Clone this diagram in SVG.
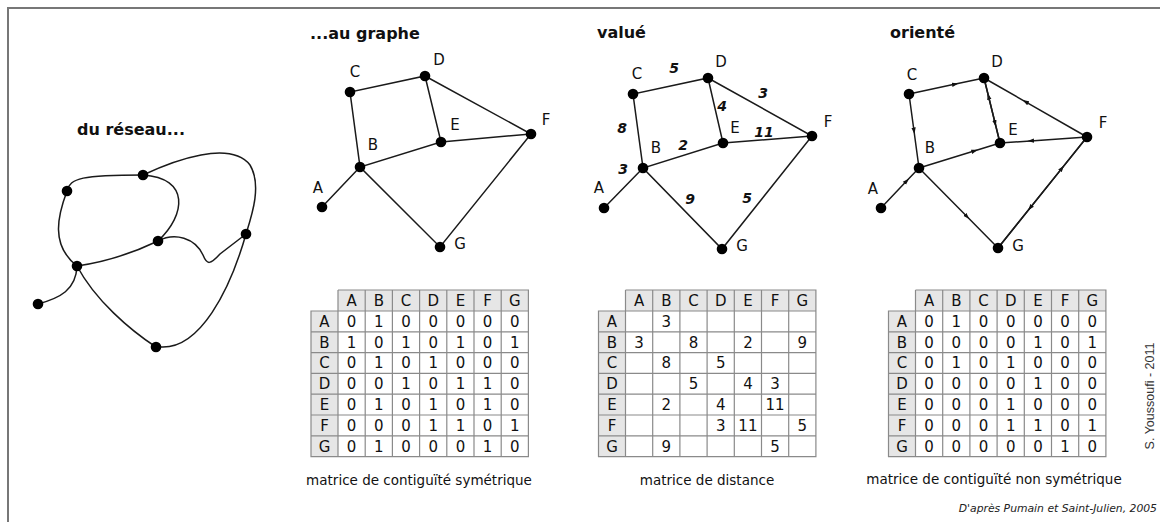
<svg xmlns="http://www.w3.org/2000/svg" width="1160" height="522" viewBox="0 0 1160 522">
<style>
.edge{stroke:#1a1a1a;stroke-width:1.5;fill:none}
.nd{fill:#000}
.lbl{font-family:"DejaVu Sans",sans-serif;font-size:15px;fill:#111;text-anchor:middle}
.w{font-family:"DejaVu Sans",sans-serif;font-size:14px;font-weight:bold;font-style:italic;fill:#111;text-anchor:middle}
.ttl{font-family:"DejaVu Sans",sans-serif;font-size:16px;font-weight:bold;fill:#111}
.cap{font-family:"DejaVu Sans",sans-serif;font-size:13.5px;fill:#111;text-anchor:middle}
.hd{fill:#e6e6e6}
.grid{stroke:#8a8a8a;stroke-width:1.2;fill:none}
.ct{font-family:"DejaVu Sans",sans-serif;font-size:15px;fill:#111;text-anchor:middle}
</style>
<defs>
<marker id="arr" markerUnits="userSpaceOnUse" markerWidth="7" markerHeight="6" refX="3.5" refY="3" orient="auto">
<path d="M0,0.8 L6.5,3 L0,5.2 z" fill="#111"/>
</marker>
</defs>
<rect width="1160" height="522" fill="#fff"/>
<path d="M8,522 L8,8 L1160,8" fill="none" stroke="#777" stroke-width="2"/>

<!-- Network -->
<g id="reseau">
<text class="ttl" x="77" y="135">du réseau...</text>
<g class="edge">
<path d="M38,304 C60,298 76,290 77,266"/>
<path d="M67,191 C58,215 50,245 77,266"/>
<path d="M67,191 C70,178 82,175 143,175"/>
<path d="M143,175 C190,178 186,215 158,241"/>
<path d="M143,175 C175,160 230,140 250,165 C262,185 252,215 246,234"/>
<path d="M77,266 C105,262 135,252 158,241"/>
<path d="M158,241 C175,232 195,238 203,255 C207,265 210,265 220,254 L246,234"/>
<path d="M246,234 C230,290 200,350 160,347"/>
<path d="M77,266 C95,300 130,330 156,347"/>
</g>
<g class="nd">
<circle cx="67" cy="191" r="5.3"/><circle cx="143" cy="175" r="5.3"/><circle cx="158" cy="241" r="5.3"/>
<circle cx="246" cy="234" r="5.3"/><circle cx="77" cy="266" r="5.3"/><circle cx="38" cy="304" r="5.3"/>
<circle cx="156" cy="347" r="5.3"/>
</g>
</g>

<!-- Graph 1 -->
<g id="graphe">
<text class="ttl" x="310" y="39">...au graphe</text>
<g class="edge">
<path d="M322,207 L360,167 L350,92 L425,76 L441,142 L360,167 L440,247 L531,134 L425,76"/>
<path d="M441,142 L531,134"/>
</g>
<g class="nd">
<circle cx="322" cy="207" r="5.3"/><circle cx="360" cy="167" r="5.3"/><circle cx="350" cy="92" r="5.3"/>
<circle cx="425" cy="76" r="5.3"/><circle cx="441" cy="142" r="5.3"/><circle cx="531" cy="134" r="5.3"/>
<circle cx="440" cy="247" r="5.3"/>
</g>
<g class="lbl">
<text x="318" y="193">A</text><text x="373" y="150">B</text><text x="355" y="77">C</text>
<text x="439" y="65">D</text><text x="455" y="130">E</text><text x="546" y="125">F</text><text x="460" y="249">G</text>
</g>
</g>

<!-- Graph 2 -->
<g id="value">
<text class="ttl" x="597" y="38">valué</text>
<g class="edge">
<path d="M604,208 L643,168 L633,94 L708,78 L723,143 L643,168 L722,249 L812,136 L708,78"/>
<path d="M723,143 L812,136"/>
</g>
<g class="nd">
<circle cx="604" cy="208" r="5.3"/><circle cx="643" cy="168" r="5.3"/><circle cx="633" cy="94" r="5.3"/>
<circle cx="708" cy="78" r="5.3"/><circle cx="723" cy="143" r="5.3"/><circle cx="812" cy="136" r="5.3"/>
<circle cx="722" cy="249" r="5.3"/>
</g>
<g class="lbl">
<text x="599" y="193">A</text><text x="656" y="153">B</text><text x="637" y="79">C</text>
<text x="721" y="67">D</text><text x="735" y="133">E</text><text x="828" y="127">F</text><text x="742" y="251">G</text>
</g>
<g class="w">
<text x="674" y="73">5</text><text x="763" y="98">3</text><text x="722" y="111">4</text>
<text x="764" y="137">11</text><text x="622" y="133">8</text><text x="683" y="150">2</text>
<text x="623" y="174">3</text><text x="690" y="204">9</text><text x="747" y="203">5</text>
</g>
</g>

<!-- Graph 3 -->
<g id="oriente">
<text class="ttl" x="890" y="38">orienté</text>
<g class="edge">
<path d="M881,208 L906.8,180.8 L919,168" marker-mid="url(#arr)"/>
<path d="M909,94 L914,131 L919,168" marker-mid="url(#arr)"/>
<path d="M909,94 L955.5,84.1 L984,78" marker-mid="url(#arr)"/>
<path d="M919,168 L974.9,150.75 L1000,143" marker-mid="url(#arr)"/>
<path d="M1000,143 L988.5,96.2 L984,78" marker-mid="url(#arr)"/>
<path d="M984,78 L995.2,123.5 L1000,143" marker-mid="url(#arr)"/>
<path d="M1087,137 L1025.2,101.6 L984,78" marker-mid="url(#arr)"/>
<path d="M1087,137 L1030.5,140.9 L1000,143" marker-mid="url(#arr)"/>
<path d="M919,168 L967.2,216.8 L998,248" marker-mid="url(#arr)"/>
<path d="M998,248 L1062.1,168.1 L1087,137" marker-mid="url(#arr)"/>
<path d="M1087,137 L1030,208 L998,248" marker-mid="url(#arr)"/>
</g>
<g class="nd">
<circle cx="881" cy="208" r="5.3"/><circle cx="919" cy="168" r="5.3"/><circle cx="909" cy="94" r="5.3"/>
<circle cx="984" cy="78" r="5.3"/><circle cx="1000" cy="143" r="5.3"/><circle cx="1087" cy="137" r="5.3"/>
<circle cx="998" cy="248" r="5.3"/>
</g>
<g class="lbl">
<text x="873" y="194">A</text><text x="930" y="153">B</text><text x="912" y="80">C</text>
<text x="997" y="67">D</text><text x="1013" y="135">E</text><text x="1103" y="128">F</text><text x="1018" y="251">G</text>
</g>
</g>

<!-- Table 1 -->
<g id="table1" transform="translate(311,290)">
<rect class="hd" x="27" y="0" width="190.4" height="21"/>
<rect class="hd" x="0" y="21" width="27" height="145.6"/>
<rect x="27" y="21" width="190.4" height="145.6" fill="#fff"/>
<path class="grid" d="M27,0 H217.4 V166.6 H0 V21 H217.4 M0,41.8 H217.4 M0,62.6 H217.4 M0,83.4 H217.4 M0,104.2 H217.4 M0,125 H217.4 M0,145.8 H217.4 M27,0 V166.6 M54.2,0 V166.6 M81.4,0 V166.6 M108.6,0 V166.6 M135.8,0 V166.6 M163,0 V166.6 M190.2,0 V166.6"/>
<g class="ct">
<text x="40.6 67.8 95 122.2 149.4 176.6 203.8" y="16">ABCDEFG</text>
<text x="13.5" y="36.8">A</text><text x="13.5" y="57.6">B</text><text x="13.5" y="78.4">C</text><text x="13.5" y="99.2">D</text><text x="13.5" y="120">E</text><text x="13.5" y="140.8">F</text><text x="13.5" y="161.6">G</text>
<text x="40.6 67.8 95 122.2 149.4 176.6 203.8" y="36.8">0100000</text>
<text x="40.6 67.8 95 122.2 149.4 176.6 203.8" y="57.6">1010101</text>
<text x="40.6 67.8 95 122.2 149.4 176.6 203.8" y="78.4">0101000</text>
<text x="40.6 67.8 95 122.2 149.4 176.6 203.8" y="99.2">0010110</text>
<text x="40.6 67.8 95 122.2 149.4 176.6 203.8" y="120">0101010</text>
<text x="40.6 67.8 95 122.2 149.4 176.6 203.8" y="140.8">0001101</text>
<text x="40.6 67.8 95 122.2 149.4 176.6 203.8" y="161.6">0100010</text>
</g>
</g>
<text class="cap" x="419" y="485">matrice de contiguïté symétrique</text>

<!-- Table 2 -->
<g id="table2" transform="translate(598.5,290)">
<rect class="hd" x="27" y="0" width="190.4" height="21"/>
<rect class="hd" x="0" y="21" width="27" height="145.6"/>
<rect x="27" y="21" width="190.4" height="145.6" fill="#fff"/>
<path class="grid" d="M27,0 H217.4 V166.6 H0 V21 H217.4 M0,41.8 H217.4 M0,62.6 H217.4 M0,83.4 H217.4 M0,104.2 H217.4 M0,125 H217.4 M0,145.8 H217.4 M27,0 V166.6 M54.2,0 V166.6 M81.4,0 V166.6 M108.6,0 V166.6 M135.8,0 V166.6 M163,0 V166.6 M190.2,0 V166.6"/>
<g class="ct">
<text x="40.6 67.8 95 122.2 149.4 176.6 203.8" y="16">ABCDEFG</text>
<text x="13.5" y="36.8">A</text><text x="13.5" y="57.6">B</text><text x="13.5" y="78.4">C</text><text x="13.5" y="99.2">D</text><text x="13.5" y="120">E</text><text x="13.5" y="140.8">F</text><text x="13.5" y="161.6">G</text>
<text y="36.8"><tspan x="67.8">3</tspan></text>
<text y="57.6"><tspan x="40.6">3</tspan><tspan x="95">8</tspan><tspan x="149.4">2</tspan><tspan x="203.8">9</tspan></text>
<text y="78.4"><tspan x="67.8">8</tspan><tspan x="122.2">5</tspan></text>
<text y="99.2"><tspan x="95">5</tspan><tspan x="149.4">4</tspan><tspan x="176.6">3</tspan></text>
<text y="120"><tspan x="67.8">2</tspan><tspan x="122.2">4</tspan><tspan x="176.6">11</tspan></text>
<text y="140.8"><tspan x="122.2">3</tspan><tspan x="149.4">11</tspan><tspan x="203.8">5</tspan></text>
<text y="161.6"><tspan x="67.8">9</tspan><tspan x="176.6">5</tspan></text>
</g>
</g>
<text class="cap" x="707" y="485">matrice de distance</text>

<!-- Table 3 -->
<g id="table3" transform="translate(888.5,290)">
<rect class="hd" x="27" y="0" width="190.4" height="21"/>
<rect class="hd" x="0" y="21" width="27" height="145.6"/>
<rect x="27" y="21" width="190.4" height="145.6" fill="#fff"/>
<path class="grid" d="M27,0 H217.4 V166.6 H0 V21 H217.4 M0,41.8 H217.4 M0,62.6 H217.4 M0,83.4 H217.4 M0,104.2 H217.4 M0,125 H217.4 M0,145.8 H217.4 M27,0 V166.6 M54.2,0 V166.6 M81.4,0 V166.6 M108.6,0 V166.6 M135.8,0 V166.6 M163,0 V166.6 M190.2,0 V166.6"/>
<g class="ct">
<text x="40.6 67.8 95 122.2 149.4 176.6 203.8" y="16">ABCDEFG</text>
<text x="13.5" y="36.8">A</text><text x="13.5" y="57.6">B</text><text x="13.5" y="78.4">C</text><text x="13.5" y="99.2">D</text><text x="13.5" y="120">E</text><text x="13.5" y="140.8">F</text><text x="13.5" y="161.6">G</text>
<text x="40.6 67.8 95 122.2 149.4 176.6 203.8" y="36.8">0100000</text>
<text x="40.6 67.8 95 122.2 149.4 176.6 203.8" y="57.6">0000101</text>
<text x="40.6 67.8 95 122.2 149.4 176.6 203.8" y="78.4">0101000</text>
<text x="40.6 67.8 95 122.2 149.4 176.6 203.8" y="99.2">0000100</text>
<text x="40.6 67.8 95 122.2 149.4 176.6 203.8" y="120">0001000</text>
<text x="40.6 67.8 95 122.2 149.4 176.6 203.8" y="140.8">0001101</text>
<text x="40.6 67.8 95 122.2 149.4 176.6 203.8" y="161.6">0000010</text>
</g>
</g>
<text class="cap" x="994" y="484">matrice de contiguïté non symétrique</text>

<text x="1157" y="512" font-family="'DejaVu Sans',sans-serif" font-size="10.8" font-style="italic" fill="#222" text-anchor="end">D'après Pumain et Saint-Julien, 2005</text>
<text transform="translate(1154,396) rotate(-90)" font-family="'Liberation Sans',sans-serif" font-size="12.5" fill="#333" text-anchor="middle">S. Youssoufi - 2011</text>
</svg>
